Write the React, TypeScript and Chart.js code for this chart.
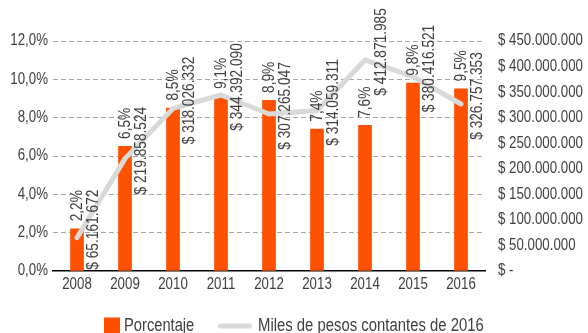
import { useEffect, useRef } from 'react';
import { Chart, registerables } from 'chart.js';

Chart.register(...registerables);

// Data
const years = ['2008', '2009', '2010', '2011', '2012', '2013', '2014', '2015', '2016'];
const porcentaje = [2.2, 6.5, 8.5, 9.1, 8.9, 7.4, 7.6, 9.8, 9.5];
const milesDePesos = [
  65161672, 219858524, 318026332, 344392090, 307265047, 314059311, 412871985, 380416521, 326757353,
];
const pctAxis = { min: 0, max: 12, step: 2 };
const pesosAxis = { min: 0, max: 450000000, step: 50000000 };
const legendBar = 'Porcentaje';
const legendLine = 'Miles de pesos contantes de 2016';

// Narrow sans look: Liberation Sans squeezed horizontally
const FAMILY = "'Liberation Sans', Arial, sans-serif";
const SQUEEZE = 0.83;
const TEXT = '#404040';
const ORANGE = '#FF5000';
const GREY_LINE = '#D9D9D9';

const fmtPct = (v: number) => v.toFixed(1).replace('.', ',') + '%';
const fmtPesos = (v: number) =>
  v === 0 ? '$ -' : '$ ' + Math.round(v).toString().replace(/\B(?=(\d{3})+(?!\d))/g, '.');

function narrowText(
  ctx: CanvasRenderingContext2D,
  text: string,
  x: number,
  y: number,
  size: number,
  align: CanvasTextAlign,
  baseline: CanvasTextBaseline,
  rot = 0,
  sx = SQUEEZE,
) {
  ctx.save();
  ctx.translate(x, y);
  if (rot) ctx.rotate(rot);
  ctx.scale(sx, 1);
  ctx.font = `${size}px ${FAMILY}`;
  ctx.fillStyle = TEXT;
  ctx.textAlign = align;
  ctx.textBaseline = baseline;
  ctx.fillText(text, 0, 0);
  ctx.restore();
}

// Axis tick labels, placed from the chart's own scales
const axisLabels = {
  id: 'axisLabels',
  afterDraw(chart: any) {
    const ctx = chart.ctx;
    const { x, y, y1 } = chart.scales;
    x.ticks.forEach((t: any, i: number) => {
      narrowText(ctx, years[i], x.getPixelForTick(i), x.top + 14, 16, 'center', 'middle');
    });
    y.ticks.forEach((t: any) => {
      narrowText(ctx, fmtPct(t.value), y.right - 5, y.getPixelForValue(t.value), 16, 'right', 'middle');
    });
    y1.ticks.forEach((t: any) => {
      narrowText(ctx, fmtPesos(t.value), y1.left + 13, y1.getPixelForValue(t.value), 16, 'left', 'middle');
    });
  },
};

// Rotated value labels over bars and next to line points
const valueLabels = {
  id: 'valueLabels',
  afterDatasetsDraw(chart: any) {
    const ctx = chart.ctx;
    chart.getDatasetMeta(0).data.forEach((el: any, i: number) => {
      narrowText(ctx, fmtPct(porcentaje[i]), el.x, el.y - 7.5, 16.5, 'left', 'middle', -Math.PI / 2);
    });
    chart.getDatasetMeta(1).data.forEach((el: any, i: number) => {
      narrowText(ctx, fmtPesos(milesDePesos[i]), el.x + 16, el.y - 8, 16.5, 'center', 'middle', -Math.PI / 2);
    });
  },
};

const bottomLegend = {
  id: 'bottomLegend',
  afterDraw(chart: any) {
    const ctx = chart.ctx;
    ctx.save();
    ctx.fillStyle = ORANGE;
    ctx.fillRect(104, 317.5, 16, 16);
    ctx.strokeStyle = GREY_LINE;
    ctx.lineWidth = 5;
    ctx.lineCap = 'round';
    ctx.beginPath();
    ctx.moveTo(220.5, 326);
    ctx.lineTo(249.5, 326);
    ctx.stroke();
    ctx.restore();
    narrowText(ctx, legendBar, 124, 331, 17.5, 'left', 'alphabetic', 0, 0.84);
    narrowText(ctx, legendLine, 258, 331, 17.5, 'left', 'alphabetic', 0, 0.85);
  },
};

export default function App() {
  const canvasRef = useRef<HTMLCanvasElement | null>(null);

  useEffect(() => {
    const canvas = canvasRef.current;
    if (!canvas) return;
    const chart = new Chart(canvas, {
      type: 'bar',
      data: {
        labels: years,
        datasets: [
          {
            type: 'bar',
            label: legendBar,
            data: porcentaje,
            backgroundColor: ORANGE,
            barThickness: 13,
            yAxisID: 'y',
            order: 1,
          },
          {
            type: 'line',
            label: legendLine,
            data: milesDePesos,
            borderColor: GREY_LINE,
            borderWidth: 5,
            borderCapStyle: 'round',
            borderJoinStyle: 'round',
            pointRadius: 0,
            tension: 0,
            yAxisID: 'y1',
            order: 0,
          },
        ],
      } as any,
      options: {
        responsive: false,
        animation: false,
        devicePixelRatio: 1,
        layout: { padding: { top: 41, left: 0, right: 0, bottom: 0 } },
        plugins: {
          legend: { display: false },
          tooltip: { enabled: false },
        },
        scales: {
          x: {
            offset: true,
            grid: { display: false },
            border: { display: true, color: '#000000', width: 1.5 },
            ticks: { display: false },
            afterFit: (s: any) => {
              s.height = 62;
            },
          },
          y: {
            position: 'left',
            min: pctAxis.min,
            max: pctAxis.max,
            grid: {
              drawTicks: false,
              color: (c: any) => (c.tick && c.tick.value === 0 ? 'rgba(0,0,0,0)' : '#A6A6A6'),
              lineWidth: 1,
            },
            border: { display: false, dash: [5, 3] },
            ticks: { display: false, stepSize: pctAxis.step },
            afterFit: (s: any) => {
              s.width = 53;
            },
          },
          y1: {
            position: 'right',
            min: pesosAxis.min,
            max: pesosAxis.max,
            grid: { display: false, drawTicks: false },
            border: { display: false },
            ticks: { display: false, stepSize: pesosAxis.step },
            afterFit: (s: any) => {
              s.width = 103;
            },
          },
        },
      } as any,
      plugins: [valueLabels, axisLabels, bottomLegend],
    });
    return () => chart.destroy();
  }, []);

  return (
    <div style={{ position: 'absolute', left: 0, top: 0, width: 588, height: 333, background: '#ffffff' }}>
      <canvas ref={canvasRef} width={588} height={333} style={{ display: 'block' }} />
    </div>
  );
}
